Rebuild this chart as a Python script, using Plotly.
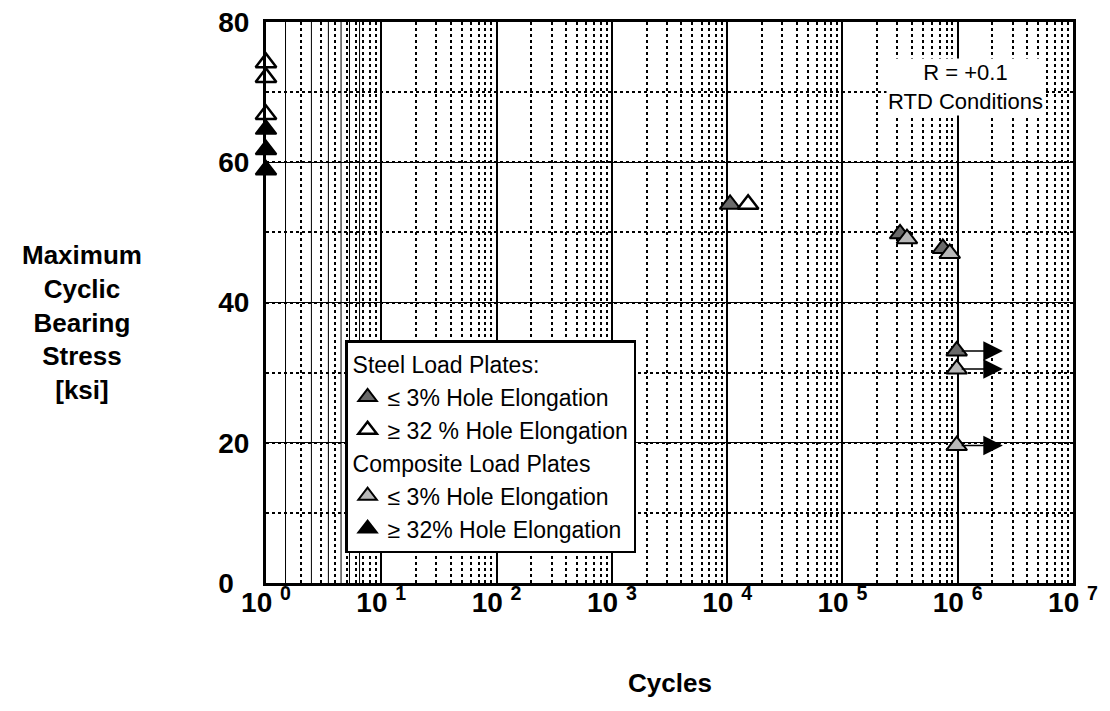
import numpy as np
import plotly.graph_objects as go

# ---------------- data ----------------
# Steel load plates, <= 3% hole elongation (stippled triangles)
STEEL_LO_N = [1.06e4, 3.16e5, 7.43e5, 9.8e5]
STEEL_LO_S = [54.0, 49.8, 47.7, 33.1]
# Steel load plates, >= 32% hole elongation (open triangles)
STEEL_HI_N = [1, 1, 1, 1.52e4]
STEEL_HI_S = [74.2, 72.1, 66.8, 54.0]
# Composite load plates, <= 3% hole elongation
COMP_LO_N = [3.63e5, 8.53e5, 9.8e5, 9.8e5]
COMP_LO_S = [49.1, 47.0, 30.5, 19.6]
# Composite load plates, >= 32% hole elongation (solid triangles)
COMP_HI_N = [1, 1, 1]
COMP_HI_S = [64.7, 61.8, 58.9]
# Run-outs (arrows)
RUNOUT_N = [9.8e5, 9.8e5, 9.8e5]
RUNOUT_S = [33.1, 30.5, 19.6]

X_TICKS = [1e0, 1e1, 1e2, 1e3, 1e4, 1e5, 1e6, 1e7]
X_TICK_TEXT = ["10 <sup>%d</sup>" % i for i in range(8)]
Y_TICKS = [0, 20, 40, 60, 80]
Y_TICK_TEXT = ["0\u2007", "20", "40", "60", "80"]
SOLID_MINOR_X = [2, 30, 300, 3000, 3e4, 2e5, 3e6]

FONT = "Liberation Sans, Arial, Helvetica, sans-serif"
ARROW_DEC = 0.40

fig = go.Figure()

MS = 18
common = dict(mode="markers", cliponaxis=False)
fig.add_trace(go.Scatter(
    x=STEEL_LO_N, y=STEEL_LO_S, name="≤ 3% Hole Elongation",
    legendgroup="steel", legendgrouptitle_text="Steel Load Plates:",
    marker=dict(symbol="triangle-up", size=MS, color="#6a6a6a",
                line=dict(color="black", width=2)), **common))
fig.add_trace(go.Scatter(
    x=STEEL_HI_N, y=STEEL_HI_S, name="≥ 32 % Hole Elongation",
    legendgroup="steel",
    marker=dict(symbol="triangle-up", size=MS, color="white",
                line=dict(color="black", width=2.5)), **common))
fig.add_trace(go.Scatter(
    x=COMP_LO_N, y=COMP_LO_S, name="≤ 3% Hole Elongation",
    legendgroup="comp", legendgrouptitle_text="Composite Load Plates",
    marker=dict(symbol="triangle-up", size=MS, color="#b8b8b8",
                line=dict(color="black", width=2)), **common))
fig.add_trace(go.Scatter(
    x=COMP_HI_N, y=COMP_HI_S, name="≥ 32% Hole Elongation",
    legendgroup="comp",
    marker=dict(symbol="triangle-up", size=MS, color="black",
                line=dict(color="black", width=2)), **common))

annotations = []
for n, s in zip(RUNOUT_N, RUNOUT_S):
    annotations.append(dict(
        x=np.log10(n) + ARROW_DEC, y=s, xref="x", yref="y",
        ax=np.log10(n) + 0.03, ay=s, axref="x", ayref="y",
        showarrow=True, arrowhead=2, arrowsize=2.6, arrowwidth=1.5,
        arrowcolor="black", text=""))

annotations.append(dict(
    x=1.0, y=0.936, xref="paper", yref="paper", xanchor="right",
    yanchor="top", text="R = +0.1<br>RTD Conditions", showarrow=False,
    align="center", font=dict(family=FONT, size=22, color="black"),
    bgcolor="white", xshift=-28))
annotations.append(dict(
    x=-0.228, y=0.465, xref="paper", yref="paper", xanchor="center",
    yanchor="middle", showarrow=False, align="center",
    text="Maximum<br>Cyclic<br>Bearing<br>Stress<br>[ksi]",
    font=dict(family=FONT, size=26, color="black", weight="bold")))
annotations.append(dict(
    x=0.5, y=-0.178, xref="paper", yref="paper", xanchor="center",
    yanchor="middle", showarrow=False, text="Cycles",
    font=dict(family=FONT, size=26, color="black", weight="bold")))

shapes = [dict(type="line", xref="x", yref="paper", x0=np.log10(v),
               x1=np.log10(v), y0=0, y1=1, layer="below",
               line=dict(color="black", width=1)) for v in SOLID_MINOR_X]

fig.update_layout(
    width=1110, height=711,
    margin=dict(l=258, r=45, t=14, b=136),
    paper_bgcolor="white", plot_bgcolor="white",
    font=dict(family=FONT, color="black"),
    annotations=annotations, shapes=shapes,
    legend=dict(x=0.098, y=0.433, xanchor="left", yanchor="top",
                bgcolor="white", bordercolor="black", borderwidth=2.5,
                font=dict(family=FONT, size=23, color="black"),
                grouptitlefont=dict(family=FONT, size=23, color="black"),
                traceorder="grouped", tracegroupgap=0, itemwidth=30),
)
fig.update_xaxes(
    type="log", range=[0, 7], tickvals=X_TICKS, ticktext=X_TICK_TEXT,
    tickfont=dict(family=FONT, size=28, color="black", weight="bold"),
    ticks="", ticklabelstandoff=-8, ticklabeloverflow="allow",
    automargin=False,
    showline=True, mirror=True, linecolor="black", linewidth=3,
    showgrid=True, gridcolor="black", gridwidth=1.5,
    minor=dict(dtick="D1", showgrid=True, gridcolor="black", gridwidth=1.5,
               griddash="dot", ticks=""),
    zeroline=False)
fig.update_yaxes(
    range=[0, 80], tickvals=Y_TICKS, ticktext=Y_TICK_TEXT,
    tickfont=dict(family=FONT, size=28, color="black", weight="bold"),
    ticks="", ticklabelstandoff=8, ticklabeloverflow="allow",
    automargin=False,
    showline=True, mirror=True, linecolor="black", linewidth=3,
    showgrid=True, gridcolor="black", gridwidth=1.2,
    minor=dict(dtick=10, showgrid=True, gridcolor="black", gridwidth=1.5,
               griddash="dot", ticks=""),
    zeroline=False)

fig.write_html("out.html")
